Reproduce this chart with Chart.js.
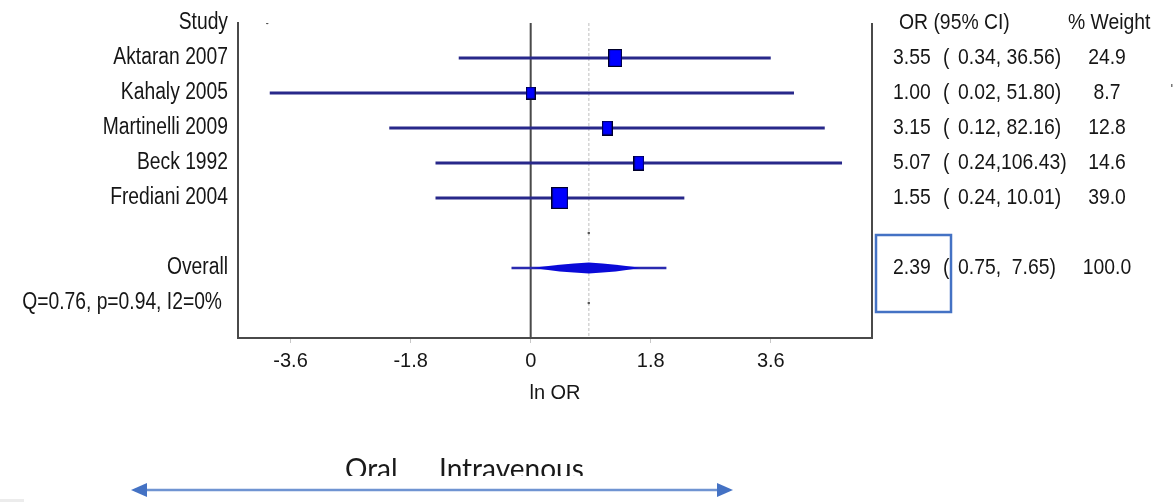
<!DOCTYPE html>
<html><head><meta charset="utf-8">
<script src="https://cdn.jsdelivr.net/npm/chart.js@4.4.1/dist/chart.umd.min.js"></script>
<style>html,body{margin:0;padding:0;background:#fff;overflow:hidden}#wrap{width:1173px;height:502px;position:relative}</style>
</head><body><div id="wrap"><canvas id="c" width="1173" height="502"></canvas></div>
<script>
// ---- data ----
const studies = ['Aktaran 2007', 'Kahaly 2005', 'Martinelli 2009', 'Beck 1992', 'Frediani 2004'];
const orValues = [3.55, 1.00, 3.15, 5.07, 1.55];
const ciLower = [0.34, 0.02, 0.12, 0.24, 0.24];
const ciUpper = [36.56, 51.80, 82.16, 106.43, 10.01];
const weights = [24.9, 8.7, 12.8, 14.6, 39.0];
const overallOR = [2.39];
const overallLower = [0.75];
const overallUpper = [7.65];
const overallWeight = [100.0];
const overallDiamond = [0.04, 1.64];       // ln-scale extent of the summary shape
const strayDots = [{x: -3.95, y: 0}, {x: 0.871, y: 6}, {x: 0.871, y: 8}];
const heterogeneity = 'Q=0.76, p=0.94, I2=0%';
const xTicks = [-3.6, -1.8, 0, 1.8, 3.6];
const rowLabels = ['Study', ...studies, '', 'Overall', heterogeneity];
const columnHeaders = ['OR (95% CI)', '% Weight'];
const axisTitle = 'ln OR';
const directionLabels = ['Oral', 'Intravenous'];

// ---- helpers ----
const SANS = '"Liberation Sans", Arial, sans-serif';
const ln = Math.log;
const padL = (s, n) => (' '.repeat(Math.max(0, n - s.length)) + s);
const studyRows = studies.map((_, i) => i + 1);
const overallRow = 7;

function makeBox(weight) {
  const w = Math.round(8 + 0.23 * weight);
  const h = Math.round(w * 1.32);
  const c = document.createElement('canvas');
  c.width = w; c.height = h;
  const g = c.getContext('2d');
  g.fillStyle = '#0000ff';
  g.fillRect(0, 0, w, h);
  g.strokeStyle = '#00002a';
  g.lineWidth = 1.2;
  g.strokeRect(0.6, 0.6, w - 1.2, h - 1.2);
  return c;
}

// condensed text (the source uses a narrow sans face)
function narrowText(ctx, text, x, y, size, sx, align) {
  ctx.save();
  ctx.font = size + 'px ' + SANS;
  ctx.fillStyle = '#161616';
  ctx.textBaseline = 'middle';
  ctx.textAlign = align;
  ctx.translate(x, y);
  ctx.scale(sx, 1);
  ctx.fillText(text, 0, 0);
  ctx.restore();
}

const datasets = [];
datasets.push({type: 'line', data: [{x: 0, y: 0}, {x: 0, y: 9}], borderColor: '#4a4a4a', borderWidth: 2, pointRadius: 0, order: 5});
datasets.push({type: 'line', data: [{x: ln(overallOR[0]), y: 0}, {x: ln(overallOR[0]), y: 9}], borderColor: '#d4d4d4', borderWidth: 1.5, borderDash: [3, 2], pointRadius: 0, order: 6});
studies.forEach((s, i) => {
  datasets.push({type: 'line', data: [{x: ln(ciLower[i]), y: studyRows[i]}, {x: ln(ciUpper[i]), y: studyRows[i]}],
    borderColor: '#28288a', borderWidth: 2.8, pointRadius: 0, order: 2});
});
datasets.push({type: 'line', data: [{x: ln(overallLower[0]), y: overallRow}, {x: ln(overallUpper[0]), y: overallRow}],
  borderColor: '#2a2ab0', borderWidth: 2.4, pointRadius: 0, order: 2});
datasets.push({type: 'scatter', data: studies.map((s, i) => ({x: ln(orValues[i]), y: studyRows[i]})),
  pointStyle: weights.map(makeBox), pointRadius: 8, order: 0});
datasets.push({type: 'scatter', data: strayDots, pointStyle: 'circle', pointRadius: 1.3, backgroundColor: '#555', borderWidth: 0, order: 1});

const extras = {
  id: 'extras',
  afterDatasetsDraw(chart) {
    const {ctx, chartArea, scales: {x, y}} = chart;
    // summary shape
    const yc = y.getPixelForValue(overallRow);
    const xl = x.getPixelForValue(overallDiamond[0]);
    const xr = x.getPixelForValue(overallDiamond[1]);
    const xm = x.getPixelForValue(ln(overallOR[0]));
    ctx.save();
    ctx.fillStyle = '#0a0ad8';
    ctx.beginPath();
    ctx.moveTo(xl, yc);
    ctx.quadraticCurveTo(xl + (xm - xl) * 0.45, yc - 4, xm, yc - 5.5);
    ctx.quadraticCurveTo(xr - (xr - xm) * 0.45, yc - 4, xr, yc);
    ctx.quadraticCurveTo(xr - (xr - xm) * 0.45, yc + 4, xm, yc + 5.5);
    ctx.quadraticCurveTo(xl + (xm - xl) * 0.45, yc + 4, xl, yc);
    ctx.fill();
    // right frame
    ctx.strokeStyle = '#4a4a4a';
    ctx.lineWidth = 2;
    ctx.beginPath();
    ctx.moveTo(chartArea.right, chartArea.top);
    ctx.lineTo(chartArea.right, chartArea.bottom);
    ctx.stroke();
    ctx.restore();

    // left row labels (y axis)
    rowLabels.forEach((lab, i) => {
      const right = (i === rowLabels.length - 1) ? 222 : 228;
      if (lab) narrowText(ctx, lab, right, y.getPixelForValue(i), 23.5, 0.82, 'right');
    });

    // right-hand table
    const y0 = y.getPixelForValue(0);
    narrowText(ctx, columnHeaders[0], 899, y0, 22, 0.88, 'left');
    narrowText(ctx, columnHeaders[1], 1068, y0, 22, 0.88, 'left');
    const rows = studies.map((s, i) => [orValues[i], ciLower[i], ciUpper[i], weights[i], studyRows[i]]);
    rows.push([overallOR[0], overallLower[0], overallUpper[0], overallWeight[0], overallRow]);
    rows.forEach(([o, lo, hi, w, r]) => {
      const py = y.getPixelForValue(r);
      narrowText(ctx, o.toFixed(2), 893, py, 21.5, 0.9, 'left');
      narrowText(ctx, '(', 943, py, 21.5, 0.9, 'left');
      narrowText(ctx, lo.toFixed(2) + ',' + padL(hi.toFixed(2), 6) + ')', 958, py, 21.5, 0.9, 'left');
      narrowText(ctx, w.toFixed(1), 1107, py, 21.5, 0.9, 'center');
    });

    ctx.save();
    // highlight box
    ctx.strokeStyle = '#4472c4';
    ctx.lineWidth = 2.5;
    ctx.strokeRect(876, 235, 75, 77);
    // small stray marks from the source screenshot
    ctx.fillStyle = '#777';
    ctx.fillRect(1171, 84, 1.5, 3);
    ctx.fillStyle = '#ececec';
    ctx.fillRect(0, 499, 24, 3);
    // direction arrow
    const ay = 490;
    ctx.strokeStyle = '#6f94d2';
    ctx.lineWidth = 2.5;
    ctx.beginPath();
    ctx.moveTo(140, ay); ctx.lineTo(722, ay);
    ctx.stroke();
    ctx.fillStyle = '#4472c4';
    ctx.beginPath();
    ctx.moveTo(131, ay); ctx.lineTo(147, ay - 7); ctx.lineTo(147, ay + 7); ctx.closePath(); ctx.fill();
    ctx.beginPath();
    ctx.moveTo(733, ay); ctx.lineTo(717, ay - 7); ctx.lineTo(717, ay + 7); ctx.closePath(); ctx.fill();
    // direction labels (cropped at the bottom as in the source)
    ctx.beginPath();
    ctx.rect(0, 440, 1173, 36);
    ctx.clip();
    ctx.fillStyle = '#1a1a1a';
    ctx.font = '28px Lato, "Open Sans", sans-serif';
    ctx.textAlign = 'left';
    ctx.textBaseline = 'alphabetic';
    ctx.fillText(directionLabels[0], 345, 479);
    ctx.fillText(directionLabels[1], 439, 479);
    ctx.restore();
  }
};

new Chart(document.getElementById('c'), {
  data: {datasets},
  options: {
    responsive: false,
    animation: false,
    events: [],
    layout: {padding: {top: 23, right: 301, left: 0, bottom: 0}},
    plugins: {legend: {display: false}, tooltip: {enabled: false}},
    scales: {
      x: {
        type: 'linear', position: 'bottom',
        min: -4.388, max: 5.117,
        afterBuildTicks: s => { s.ticks = xTicks.map(v => ({value: v})); },
        afterFit: s => { s.height = 164; },
        ticks: {autoSkip: false, color: '#161616', padding: 6, font: {family: SANS, size: 20},
          callback: v => String(v)},
        grid: {drawOnChartArea: false, drawTicks: true, tickLength: 5, tickColor: '#c8c8c8', tickWidth: 1},
        border: {display: true, color: '#4a4a4a', width: 2},
        title: {display: true, text: axisTitle, color: '#161616', font: {family: SANS, size: 20}, padding: {top: 0, bottom: 97}}
      },
      y: {
        type: 'linear', position: 'left', reverse: true,
        min: 0, max: 9,
        afterBuildTicks: s => { s.ticks = rowLabels.map((_, i) => ({value: i})); },
        afterFit: s => { s.width = 238; },
        ticks: {display: false, autoSkip: false},
        grid: {display: false, drawTicks: false},
        border: {display: true, color: '#4a4a4a', width: 2}
      }
    }
  },
  plugins: [extras]
});
</script>
</body></html>
